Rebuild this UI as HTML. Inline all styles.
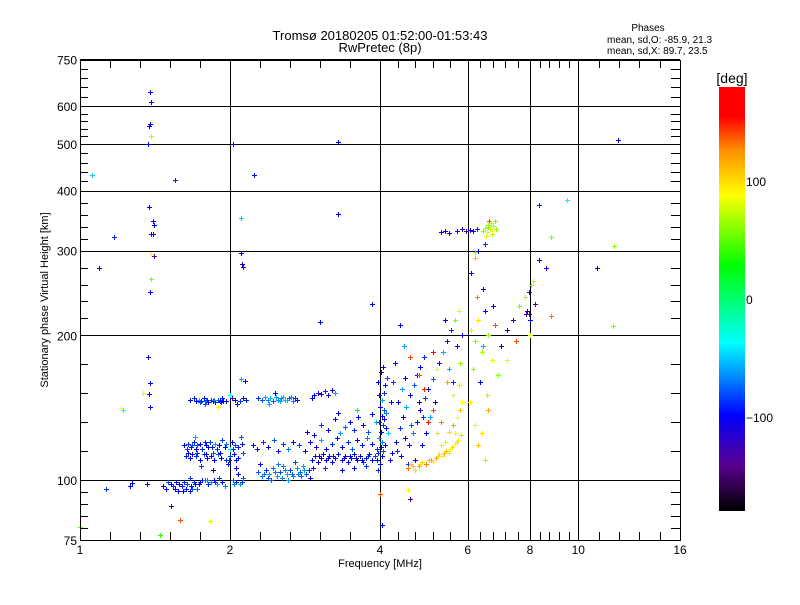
<!DOCTYPE html>
<html><head><meta charset="utf-8"><style>
body{margin:0;background:#fff;}
svg text{font-family:"Liberation Sans",sans-serif;fill:#000;}
</style></head><body>
<svg id="chart" width="800" height="600" viewBox="0 0 800 600" xmlns="http://www.w3.org/2000/svg" shape-rendering="crispEdges">
<rect width="800" height="600" fill="#fff"/>
<text x="380" y="40" font-size="13" text-anchor="middle">Tromsø 20180205 01:52:00-01:53:43</text>
<text x="380" y="52" font-size="13" text-anchor="middle">RwPretec (8p)</text>
<text x="648" y="31" font-size="10" text-anchor="middle">Phases</text>
<text x="607" y="43" font-size="10">mean, sd,O: -85.9, 21.3</text>
<text x="607" y="54" font-size="10">mean, sd,X:  89.7, 23.5</text>
<text x="380" y="567" font-size="11" text-anchor="middle">Frequency [MHz]</text>
<text transform="translate(48,300) rotate(-90)" font-size="11" text-anchor="middle">Stationary phase Virtual Height [km]</text>
<g id="grid"></g>
<g id="marks"></g>
<g id="axes"></g>
<defs><linearGradient id="cmap" x1="0" y1="1" x2="0" y2="0">
<stop offset="0" stop-color="#000"/><stop offset="0.11" stop-color="#5a0090"/><stop offset="0.226" stop-color="#0000ff"/><stop offset="0.31" stop-color="#0080ff"/><stop offset="0.396" stop-color="#00ffff"/><stop offset="0.58" stop-color="#00ff00"/><stop offset="0.745" stop-color="#ffff00"/><stop offset="0.85" stop-color="#ff9000"/><stop offset="0.93" stop-color="#ff0000"/><stop offset="1" stop-color="#ff0000"/>
</linearGradient></defs>
<rect x="719" y="87" width="26" height="424" fill="url(#cmap)"/>
<text x="732" y="83" font-size="14" text-anchor="middle">[deg]</text>
<g id="cbticks"></g>
</svg>
<script>
const xMajor=[1,2,4,6,8,10,16];
const xGridVals=[2,4,6,8,10];
const yMajor=[75,100,200,300,400,500,600,750];
const yGridVals=[100,200,300,400,500,600];
const cbTicks=[100,0,-100];
const outliers=[[1.057,430,-50],[1.09,276,-100],[1.17,320,-90],[1.38,640,-100],[1.39,610,-100],[1.38,550,-100],[1.375,545,-100],[1.39,520,70],[1.37,500,-100],[1.376,370,-100],[1.40,345,-100],[1.41,340,-100],[1.39,325,-100],[1.40,325,-100],[1.39,295,90],[1.41,293,-140],[1.39,262,60],[1.38,246,-100],[1.37,180,-100],[1.385,159,-100],[1.375,151,-100],[1.38,142,-100],[1.34,152,80],[1.21,141,90],[1.22,140,-40],[1.55,420,-140],[2.23,432,-100],[2.10,350,-50],[2.10,297,-100],[2.11,281,-110],[2.12,277,-140],[2.10,162,-60],[2.14,161,-100],[2.03,500,-100],[3.3,505,-100],[3.3,357,-100],[3.03,213,-100],[3.85,232,-100],[4.39,210,-100],[12.0,510,-100],[11.8,307,60],[11.75,209,60],[10.9,276,-100],[9.5,382,-40],[8.35,374,-90],[8.8,320,60],[8.35,287,-100],[8.6,276,-110],[8.1,260,70],[8.05,255,60],[7.95,246,-110],[8.2,232,-140],[7.85,222,-130],[7.95,221,-130],[8.8,219,130],[1.45,77,40],[1.59,82.5,140],[1.82,82,80],[1.52,88.5,-120],[4.03,80.6,-100],[4.0,93.5,140],[4.6,91.5,-130],[4.55,95.3,90],[1.0,80,50],[1.13,96,-90],[1.27,98.6,-100]];
const lowBand=[[1.47,97,-100],[1.49,96,-95],[1.52,98,-100],[1.54,97,-90],[1.56,99,-100],[1.58,98,-110],[1.60,97,-95],[1.61,95,-100],[1.63,96,-100],[1.64,98,-85],[1.66,95,-100],[1.67,97,-110],[1.69,99,-90],[1.70,98,-100],[1.72,96,-75],[1.74,99,-100],[1.76,100,-95],[1.78,100,-80],[1.81,98,-90],[1.83,99,-70],[1.86,100,-100],[1.88,98,-60],[1.90,101,-85],[1.93,99,-100],[1.95,97,-70],[2.03,100,-80],[2.06,99,-95],[2.09,98,-60],[2.12,101,-80],[2.08,103,-100],[1.57,95,-100],[1.66,101,-90],[1.36,98,-100],[1.26,97,-100],[1.50,99,-80],[1.55,96,-100],[1.62,99,-90],[1.68,96,-80],[1.73,98,-100],[1.80,100,-70],[1.87,99,-90],[2.04,98,-70],[2.11,99,-90]];
const bandB=[[1.62,118,-100],[1.65,119,-90],[1.67,117,-100],[1.69,120,-95],[1.72,118,-80],[1.74,119,-100],[1.76,116,-90],[1.79,118,-100],[1.82,120,-85],[1.84,117,-95],[1.87,119,-60],[1.90,118,-100],[1.93,121,-90],[1.96,119,-70],[2.02,120,-100],[2.05,118,-85],[2.08,117,-95],[2.11,119,-100],[1.63,112,-95],[1.66,111,-100],[1.68,113,-110],[1.71,112,-90],[1.74,110,-100],[1.77,113,-85],[1.80,111,-100],[1.83,112,-95],[1.86,110,-100],[1.89,113,-80],[1.92,111,-100],[1.96,110,-90],[2.00,112,-85],[2.04,113,-100],[2.08,111,-95],[2.12,114,-80],[1.75,107,-90],[1.85,105,-100],[1.98,108,-95],[2.06,106,-100],[1.70,123,-60],[2.10,123,-80],[2.00,116,-30],
[1.64,116,-90],[1.68,118,-80],[1.71,116,-100],[1.78,120,-90],[1.81,117,-100],[1.88,116,-90],[1.95,117,-100],[2.03,116,-90],[1.65,114,-100],[1.72,114,-90],[1.79,113,-100],[1.85,114,-80],[1.91,114,-100],[1.99,110,-90],[2.06,110,-100]];
const bandC=[[1.66,147,-100],[1.69,148,-90],[1.71,146,-100],[1.73,147,-60],[1.75,146,-100],[1.77,148,-95],[1.79,146,-70],[1.81,145,-100],[1.83,147,-90],[1.85,146,-100],[1.87,145,-100],[1.89,147,-80],[1.91,146,-100],[1.93,148,-95],[1.96,146,-100],[2.02,148,-120],[2.05,147,-100],[2.09,146,-90],[2.12,148,-120],[2.15,147,-95],[2.07,144,-100],[1.78,144,-80],[2.00,150,-30],[1.89,142,90],[1.74,145,-80],[1.80,147,-90],[1.86,147,-70],[1.92,145,-90],[1.94,146,-100]];
const bandD=[[2.28,148,-90],[2.32,147,-80],[2.35,149,-60],[2.38,147,-70],[2.41,148,-55],[2.44,146,-80],[2.47,149,-60],[2.50,147,-65],[2.53,148,-70],[2.56,149,-55],[2.60,147,-60],[2.63,148,-80],[2.67,146,-70],[2.70,148,-90],[2.73,147,-100],[2.46,152,-100],[2.40,144,-60],[2.95,150,-100],[3.00,152,-120],[3.05,151,-100],[3.10,153,-90],[3.15,150,-100],[3.20,154,-110],[3.25,152,-60],[2.92,148,-100],[2.52,146,-60],[2.58,147,-55],[2.65,149,-65]];
const bandF=[[2.28,104,-80],[2.32,102,-70],[2.36,105,-90],[2.40,103,-60],[2.44,106,-75],[2.48,102,-65],[2.52,104,-80],[2.56,107,-70],[2.60,103,-60],[2.64,105,-85],[2.68,102,-70],[2.72,106,-65],[2.76,104,-75],[2.80,107,-60],[2.84,103,-80],[2.88,105,-90],[2.30,108,-100],[2.50,108,-70],[2.70,109,-85],[2.90,101,-100],[2.42,100,-80],[2.62,100,-65],
[2.34,103,-75],[2.46,104,-70],[2.58,105,-65],[2.66,103,-75],[2.74,103,-70],[2.82,105,-65],[2.38,101,-80],[2.54,101,-70],[2.78,102,-75],
[2.92,110,-100],[2.96,112,-100],[3.00,109,-110],[3.04,111,-120],[3.08,113,-100],[3.12,110,-105],[3.16,112,-115],[3.20,109,-100],[3.25,111,-110],[3.30,113,-95],[3.35,110,-120],[3.40,112,-100],[3.45,109,-100],[3.50,111,-115],[3.55,113,-100],[3.60,110,-105],[3.65,112,-100],[3.70,109,-90],[3.75,111,-100],[3.80,113,-100],[3.85,110,-95],[3.90,112,-85],[2.94,106,-100],[3.10,106,-90],[3.35,105,-100],[3.55,106,-100],[3.75,107,-90],
[3.02,112,-100],[3.14,111,-100],[3.22,112,-95],[3.38,111,-100],[3.48,112,-100],[3.58,111,-110],[3.68,110,-100],[3.78,112,-90],
[2.22,118,-100],[2.27,116,-100],[2.33,120,-90],[2.38,117,-100],[2.45,121,-80],[2.50,115,-100],[2.56,119,-90],[2.62,116,-70],[2.68,120,-100],[2.75,118,-85],[2.83,115,-100],[2.90,120,-100],[2.98,117,-110],[3.05,121,-60],[3.12,116,-100],[3.20,119,-90],[3.28,122,-100],[3.36,117,-100],[3.45,120,-90],[3.52,116,-80],[3.60,121,-100],[3.68,118,-95],[3.76,122,-70],[3.85,119,-100],[3.95,116,-90],
[2.85,126,-110],[2.95,124,-100],[3.05,130,-90],[3.15,127,-100],[3.25,134,-100],[3.32,125,-60],[3.40,129,-80],[3.48,132,-100],[3.55,127,-90],[3.62,135,-100],[3.70,130,-100],[3.78,126,-80],[3.85,137,-100],[3.92,132,-60],[3.30,138,-100],[3.60,140,30]];
const bandH=[[3.97,105,-90],[4.00,108,-100],[4.03,112,-100],[4.06,115,-80],[4.09,118,-100],[3.98,122,-60],[4.02,126,-100],[4.05,130,-90],[4.08,134,-100],[4.12,138,-70],[4.00,142,-100],[4.04,147,-60],[4.07,152,-90],[4.10,158,-100],[4.14,163,-80],[4.02,168,-100],[4.06,172,-100],[4.18,110,-110],[4.22,114,-100],[4.15,125,-50],[4.20,145,-100],[4.25,160,-90],[3.96,160,-100],[3.98,150,-100],
[3.94,110,-100],[3.96,114,-90],[4.01,117,-100],[4.04,120,-70],[3.99,132,-90],[4.03,136,-100],[4.08,140,-80],[4.11,128,-100],
[4.30,120,-100],[4.38,128,-90],[4.45,135,-100],[4.52,142,-60],[4.60,150,-100],[4.68,158,-80],[4.75,165,-110],[4.82,172,-100],[4.90,180,-90],[4.35,145,-100],[4.42,155,-60],[4.50,163,-100],[4.58,118,-100],[4.66,125,-70],[4.74,132,-100],[4.82,140,-110],[4.92,148,-90],[5.00,155,-100],[5.10,162,-80],[4.40,112,-100],[4.55,108,-90],[4.70,110,-110],[4.95,125,-100],[5.05,135,-60],[5.15,145,-100],[4.85,118,-100],[4.28,175,-100],[4.46,190,-60],
[4.33,115,-90],[4.48,122,-100],[4.62,130,-80],[4.78,145,-100],[4.88,135,-90]];
const warmH=[[4.55,106,130],[4.62,108,110],[4.70,105,100],[4.78,107,120],[4.86,109,100],[4.94,108,130],[5.02,110,110],[5.10,109,90],[5.18,111,120],[5.26,113,100],[5.34,112,90],[5.42,115,110],[5.50,114,80],[5.58,117,100],[5.66,119,90],[5.74,121,80],[5.82,124,100],[5.40,120,80],[5.50,126,100],[5.60,130,120],[5.70,135,90],[5.80,140,110],[5.30,132,130],[5.20,125,100],[5.10,140,140],[5.00,132,160],[4.90,155,150],[4.80,165,140],[5.60,150,80],[5.75,158,100],[5.85,145,90],[5.45,160,120],[5.20,170,90],[4.60,180,140],[5.10,185,160],
[4.66,107,110],[4.82,108,100],[5.06,110,120],[5.22,112,100],[5.38,114,110],[5.54,116,90],[5.70,120,100],[5.30,118,80],[5.65,125,90],
[5.25,175,-100],[5.35,185,-60],[5.45,195,-110],[5.55,205,-90],[5.65,215,60],[5.75,225,80],[5.85,200,-100],[5.50,170,-60],[5.70,190,-100],[5.60,160,-90],[5.80,175,60],[5.40,215,-100]];
const bandI=[[6.1,205,80],[6.2,195,60],[6.3,215,100],[6.4,185,70],[6.5,225,-100],[6.6,200,60],[6.7,178,80],[6.8,210,140],[6.25,240,130],[6.45,250,-110],[6.15,170,60],[6.35,160,-100],[6.55,150,70],[6.05,145,90],[6.6,140,120],[6.9,165,60],[7.0,190,-100],[7.2,205,-100],[7.4,215,-110],[7.6,230,60],[7.8,240,70],[7.9,225,-100],[8.0,215,-100],[8.0,200,80],[7.5,195,140],[6.2,130,80],[6.4,125,100],[6.3,118,110],[6.5,110,70],[6.1,270,-100],[6.2,290,110],[7.2,178,80],[6.45,190,-60],[6.75,230,-100]];
const bandJ=[[5.30,328,-100],[5.40,329,-100],[5.50,327,-100],[5.70,330,-120],[5.85,332,-110],[5.95,329,-130],[6.05,331,-110],[6.15,330,-100],[6.25,332,-90],[6.3,300,-100],[6.5,310,-90],[6.2,298,60],
[6.45,330,60],[6.50,335,70],[6.55,328,80],[6.60,340,60],[6.65,333,75],[6.70,325,70],[6.75,338,65],[6.80,345,60],[6.52,322,80],[6.62,345,140],[6.72,330,90],[6.58,336,60],[6.68,342,70],[6.85,332,60]];

const L=80,R=680,T=60,B=540;
function xs(f){return L+150*Math.log2(f);}
function ys(h){return 480-480.7*Math.log10(h/100);}
const NS="http://www.w3.org/2000/svg";
function mk(tag,attrs,parent){const e=document.createElementNS(NS,tag);for(const k in attrs)e.setAttribute(k,attrs[k]);parent.appendChild(e);return e;}
const stops=[[-180,[0,0,0]],[-140,[90,0,144]],[-100,[0,0,255]],[-70,[0,128,255]],[-38,[0,255,255]],[28,[0,255,0]],[88,[255,255,0]],[126,[255,144,0]],[155,[255,0,0]],[180,[255,0,0]]];
function cmap(p){for(let i=1;i<stops.length;i++){if(p<=stops[i][0]){const a=stops[i-1],b=stops[i];const t=(p-a[0])/(b[0]-a[0]);const c=a[1].map((v,j)=>Math.round(v+(b[1][j]-v)*t));return `rgb(${c})`;}}return 'rgb(255,0,0)';}
const grid=document.getElementById('grid'),axes=document.getElementById('axes'),marks=document.getElementById('marks');
xGridVals.forEach(v=>{const l=mk('line',{x1:Math.round(xs(v))+.5,x2:Math.round(xs(v))+.5,y1:T,y2:B,stroke:'#000','stroke-width':1.3},grid);

});
yGridVals.forEach(v=>{const l=mk('line',{x1:L,x2:R,y1:Math.round(ys(v))+.5,y2:Math.round(ys(v))+.5,stroke:'#000','stroke-width':1.3},grid);

});
for(let i=0;i<xMajor.length-1;i++){const a=xs(xMajor[i]),b=xs(xMajor[i+1]);for(let k=0;k<=5;k++){const x=Math.round(a+(b-a)*k/5)+.5;mk('line',{x1:x,x2:x,y1:B,y2:B-8,stroke:'#000'},axes);mk('line',{x1:x,x2:x,y1:T,y2:T+8,stroke:'#000'},axes);}}
for(let i=0;i<yMajor.length-1;i++){const a=ys(yMajor[i]),b=ys(yMajor[i+1]);for(let k=0;k<=5;k++){const y=Math.round(a+(b-a)*k/5)+.5;mk('line',{x1:L,x2:L+8,y1:y,y2:y,stroke:'#000'},axes);mk('line',{x1:R,x2:R-9,y1:y,y2:y,stroke:'#000'},axes);}}
const fr=mk('rect',{x:L+.5,y:T+.5,width:R-L,height:B-T,fill:'none',stroke:'#000','stroke-width':1.3},axes);


mk('line',{x1:L,x2:R,y1:T,y2:T,stroke:'#000','stroke-width':2},axes);
xMajor.forEach(v=>{const t=mk('text',{x:xs(v),y:554,'font-size':12,'text-anchor':'middle'},axes);t.textContent=v;

});
yMajor.forEach(v=>{const t=mk('text',{x:77,y:ys(v)+5,'font-size':12,'text-anchor':'end'},axes);t.textContent=v;

});
const cb=document.getElementById('cbticks');
cbTicks.forEach(v=>{const y=299-v*424/360;const t=mk('text',{x:746,y:y+5,'font-size':12},cb);t.textContent=(v<0?'\u2212':'')+Math.abs(v);

});
[outliers,lowBand,bandB,bandC,bandD,bandF,bandH,warmH,bandI,bandJ].forEach(arr=>arr.forEach(d=>{
const x=Math.round(xs(d[0])),y=Math.round(ys(d[1])),c=cmap(d[2]);
const g=mk('path',{d:`M${x-2} ${y}h5v1h-5zM${x} ${y-2}h1v5h-1z`,fill:c},marks);


}));
</script>
</body></html>
